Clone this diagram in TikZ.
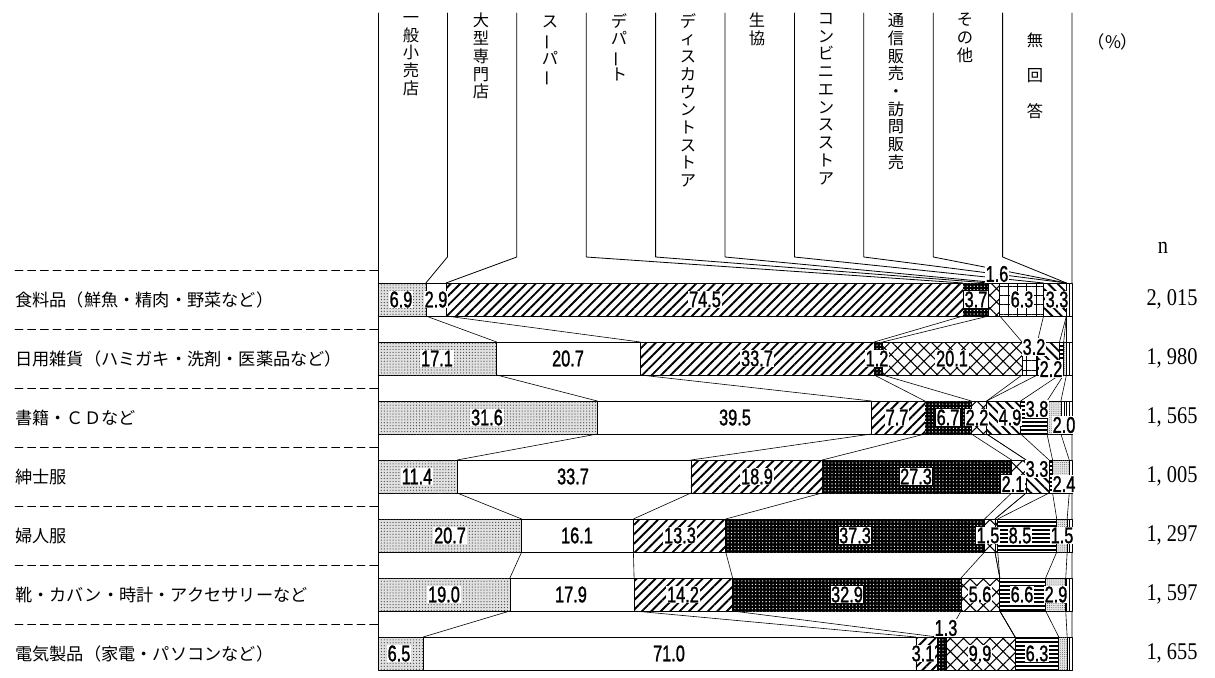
\documentclass[tikz,border=0pt]{standalone}
\usepackage{fontspec}
\setmainfont{Noto Sans CJK JP}
\newfontfamily\numfont[FakeStretch=0.72, FakeBold=1.2]{Liberation Sans}
\newfontfamily\nfont[FakeStretch=0.85]{Liberation Serif}
\usetikzlibrary{patterns.meta}

\newcommand{\vbar}{\rotatebox[origin=c]{90}{ー}}

\tikzset{
	seg1/.style={fill=black!12, postaction={pattern={Dots[distance=2.2pt, radius=0.45pt]}, pattern color=black!75}},
	seg2/.style={fill=white},
	seg3/.style={fill=white, postaction={pattern={Lines[angle=45, distance=5pt, line width=1.4pt]}}},
	seg4/.style={fill=black, postaction={pattern={Dots[distance=2.6pt, radius=0.5pt]}, pattern color=white}},
	seg5/.style={fill=white, postaction={pattern={Hatch[angle=45, distance=7pt, line width=0.8pt]}}},
	seg6/.style={fill=white, postaction={pattern={Hatch[angle=0, distance=7pt, line width=0.4pt]}}},
	seg7/.style={fill=white, postaction={pattern={Lines[angle=-45, distance=5pt, line width=1.4pt]}}},
	seg8/.style={fill=white, postaction={pattern={Lines[angle=0, distance=3pt, line width=0.9pt]}}},
	seg9/.style={fill=black!10, postaction={pattern={Dots[distance=1.6pt, radius=0.35pt]}, pattern color=black!65}},
	seg10/.style={fill=white, postaction={pattern={Lines[angle=90, distance=2pt, line width=0.3pt]}}},
}

% one stacked bar: #1 row, #2 top y, #3 ten shares
\newcommand{\barrow}[3]{%
	\coordinate (t#1-0) at (378,#2);
	\coordinate (b#1-0) at (378,#2+33);
	\xdef\cumsum{0}%
	\foreach \v [count=\k] in {#3} {
		\pgfmathsetmacro{\xa}{378+6.94*\cumsum}
		\pgfmathsetmacro{\xb}{378+6.94*(\cumsum+\v)}
		\pgfmathtruncatemacro{\nz}{\v>0}
		\ifnum\nz=1 \path[seg\k, draw=black, line width=0.5pt] (\xa,#2) rectangle (\xb,#2+33); \fi
		\coordinate (t#1-\k) at (\xb,#2);
		\coordinate (b#1-\k) at (\xb,#2+33);
		\pgfmathsetmacro{\cumnew}{\cumsum+\v}
		\xdef\cumsum{\cumnew}
	}
}

\begin{document}
\begin{tikzpicture}[x=0.75pt, y=-0.75pt, line cap=round, line join=round,
	conn/.style={line width=0.45pt},
	sepline/.style={line width=0.6pt, dash pattern=on 6pt off 3.5pt},
	head/.style={anchor=north, align=center, inner sep=0pt, font=\fontsize{12.2}{13.3}\selectfont},
	rowlbl/.style={anchor=west, inner sep=0pt, font=\fontsize{12.9}{14}\selectfont},
	nval/.style={inner sep=0pt, font=\nfont\fontsize{18}{18}\selectfont},
	val/.style={fill=white, inner sep=0.6pt, font=\numfont\fontsize{17}{17}\selectfont},
	valbox/.style={val, draw=black, line width=0.7pt}]
\useasboundingbox (0,0) rectangle (1215,678);

%========================
% bars
%========================
\barrow{1}{283}{6.9,2.9,74.5,3.7,1.6,6.3,3.3,0,0,0.8}
\barrow{2}{342}{17.1,20.7,33.7,1.2,20.1,2.2,3.2,0.6,0.4,0.8}
\barrow{3}{401}{31.6,39.5,7.7,6.7,2.2,0,4.9,3.8,2.0,1.6}
\barrow{4}{460}{11.4,33.7,18.9,27.3,2.1,0,3.3,0.5,2.4,0.4}
\barrow{5}{519}{20.7,16.1,13.3,37.3,1.5,0,0.4,8.5,1.5,0.7}
\barrow{6}{578}{19.0,17.9,14.2,32.9,5.6,0,0,6.6,2.9,0.9}
\barrow{7}{637}{6.5,71.0,3.1,1.3,9.9,0,0,6.3,1.2,0.7}

% links between bars
\foreach \r [evaluate=\r as \s using int(\r+1)] in {1,...,6}
	\foreach \k in {1,...,10}
		\draw[conn] (b\r-\k) -- (t\s-\k);

% left axis
\draw[line width=0.6pt] (378,13) -- (378,670);

%========================
% header
%========================
\foreach \k in {1,...,10}
	\draw[conn, line width=0.6pt] (378+69.4*\k,13) -- (378+69.4*\k,257) -- (t1-\k);

\node[head] (h1) at (411,16) {一\\般\\小\\売\\店};
\node[head] (h2) at (481,13) {大\\型\\専\\門\\店};
\node[head] (h3) at (550,16) {ス\\\vbar\\パ\\\vbar};
\node[head] (h4) at (619,13) {デ\\パ\\\vbar\\ト};
\node[head] (h5) at (688,13) {デ\\ィ\\ス\\カ\\ウ\\ン\\ト\\ス\\ト\\ア};
\node[head] (h6) at (757,13) {生\\協};
\node[head] (h7) at (826,13) {コ\\ン\\ビ\\ニ\\エ\\ン\\ス\\ス\\ト\\ア};
\node[head] (h8) at (896,13) {通\\信\\販\\売\\・\\訪\\問\\販\\売};
\node[head] (h9) at (965,13) {そ\\の\\他};
\node[head] (h10) at (1035,33) {無\\[13pt]回\\[13pt]答};
\node[font=\fontsize{13}{14}\selectfont] (pct) at (1113,42) {（\%）};
\node[nval] (nhead) at (1163,248) {n};

%========================
% row labels and n
%========================
\foreach \y [count=\i] in {270,329,388,447,506,565,624}
	\draw[sepline] (15,\y) -- (378,\y);

\node[rowlbl] (r1) at (15,299.5) {食料品（鮮魚・精肉・野菜など）};
\node[rowlbl] (r2) at (15,358.5) {日用雑貨（ハミガキ・洗剤・医薬品など）};
\node[rowlbl] (r3) at (15,417.5) {書籍・ＣＤなど};
\node[rowlbl] (r4) at (15,476.5) {紳士服};
\node[rowlbl] (r5) at (15,535.5) {婦人服};
\node[rowlbl] (r6) at (15,594.5) {靴・カバン・時計・アクセサリーなど};
\node[rowlbl] (r7) at (15,653.5) {電気製品（家電・パソコンなど）};

\foreach \y/\t [count=\i] in {299.5/{2, 015},358.5/{1, 980},417.5/{1, 565},476.5/{1, 005},535.5/{1, 297},594.5/{1, 597},653.5/{1, 655}}
	\node[nval] (n\i) at (1172,\y) {\t};

%========================
% shares
%========================
\foreach \x/\y/\t/\s [count=\i] in {
	401/299.5/6.9/val, 436/299.5/2.9/val, 705/299.5/74.5/val, 976/299.5/3.7/valbox,
	997/274/1.6/val, 1022/299.5/6.3/val, 1057/299.5/3.3/val,
	437/358.5/17.1/val, 568/358.5/20.7/val, 757/358.5/33.7/val, 877/358.5/1.2/val,
	952/358.5/20.1/val, 1034/347/3.2/val, 1051/369/2.2/val,
	487/417.5/31.6/val, 735/417.5/39.5/val, 897/417.5/7.7/val, 948/417.5/6.7/valbox,
	977/417.5/2.2/val, 1010/417.5/4.9/val, 1037/409/3.8/val, 1064/425/2.0/val,
	417/476.5/11.4/val, 573/476.5/33.7/val, 757/476.5/18.9/val, 916/476.5/27.3/valbox,
	1037/469/3.3/val, 1013/484/2.1/val, 1064/484/2.4/val,
	450/535.5/20.7/val, 577/535.5/16.1/val, 680/535.5/13.3/val, 855/535.5/37.3/valbox,
	988/535.5/1.5/val, 1020/535.5/8.5/val, 1062/535.5/1.5/val,
	444/594.5/19.0/val, 571/594.5/17.9/val, 683/594.5/14.2/val, 847/594.5/32.9/valbox,
	980/594.5/5.6/val, 1022/594.5/6.6/val, 1056/594.5/2.9/val,
	399/653.5/6.5/val, 669/653.5/71.0/val, 923/653.5/3.1/val, 946/628/1.3/val,
	980/653.5/9.9/val, 1037/653.5/6.3/val}
	\node[\s] (v\i) at (\x,\y) {\t};
\end{tikzpicture}
\end{document}
